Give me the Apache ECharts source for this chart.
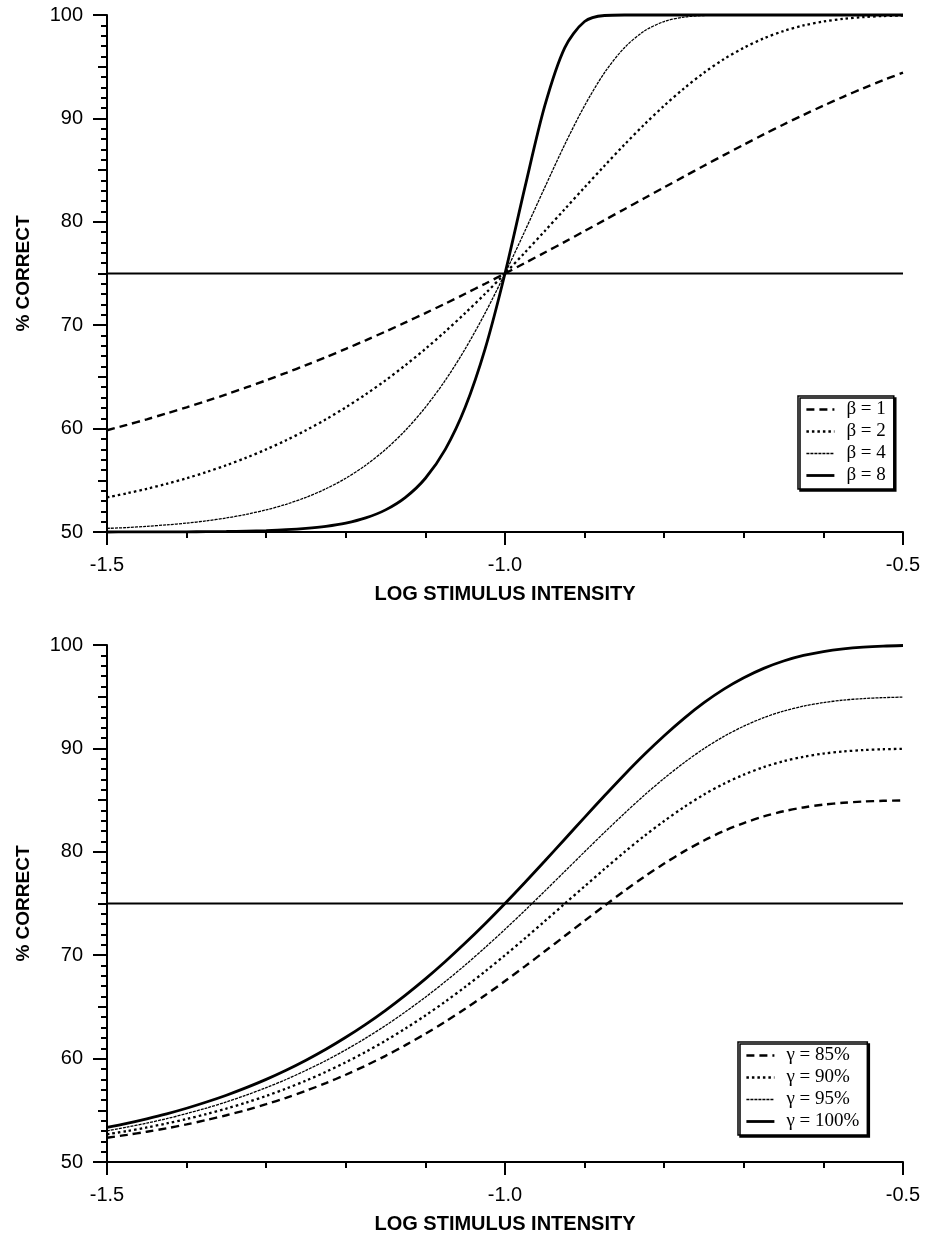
<!DOCTYPE html>
<html>
<head>
<meta charset="utf-8">
<script src="https://cdn.jsdelivr.net/npm/echarts@6/dist/echarts.min.js"></script>
<style>
  html, body { margin: 0; padding: 0; background: #fff; }
  #upper { width: 925px; height: 620px; }
  #lower { width: 925px; height: 619px; }
</style>
</head>
<body>
<div id="upper"></div>
<div id="lower"></div>
<script>
// Log stimulus intensity sampled every 0.025 log units
const logIntensity = [
  -1.5, -1.475, -1.45, -1.425, -1.4, -1.375, -1.35, -1.325, -1.3, -1.275,
  -1.25, -1.225, -1.2, -1.175, -1.15, -1.125, -1.1, -1.075, -1.05, -1.025,
  -1.0, -0.975, -0.95, -0.925, -0.9, -0.875, -0.85, -0.825, -0.8, -0.775,
  -0.75, -0.725, -0.7, -0.675, -0.65, -0.625, -0.6, -0.575, -0.55, -0.525, -0.5
];

// Upper panel: percent correct for four slopes
const beta1 = [
  59.84, 60.36, 60.90, 61.47, 62.06, 62.67, 63.31, 63.98, 64.67, 65.39,
  66.14, 66.91, 67.71, 68.54, 69.39, 70.27, 71.17, 72.09, 73.04, 74.01,
  75.00, 76.01, 77.03, 78.06, 79.11, 80.16, 81.22, 82.28, 83.33, 84.38,
  85.42, 86.45, 87.46, 88.45, 89.41, 90.34, 91.23, 92.09, 92.91, 93.69, 94.42
];
const beta2 = [
  53.35, 53.74, 54.18, 54.66, 55.20, 55.80, 56.46, 57.19, 57.99, 58.87,
  59.84, 60.90, 62.06, 63.31, 64.67, 66.14, 67.71, 69.39, 71.17, 73.04,
  75.00, 77.03, 79.11, 81.22, 83.33, 85.42, 87.46, 89.41, 91.23, 92.91,
  94.42, 95.73, 96.83, 97.74, 98.45, 98.99, 99.37, 99.63, 99.80, 99.90, 99.95
];
const beta4 = [
  50.35, 50.43, 50.55, 50.69, 50.86, 51.08, 51.36, 51.71, 52.14, 52.68,
  53.35, 54.18, 55.20, 56.46, 57.99, 59.84, 62.06, 64.67, 67.71, 71.17,
  75.00, 79.11, 83.33, 87.46, 91.23, 94.42, 96.83, 98.45, 99.37, 99.80,
  99.95, 99.99, 100, 100, 100, 100, 100, 100, 100, 100, 100
];
const beta8 = [
  50.00, 50.01, 50.01, 50.01, 50.02, 50.03, 50.05, 50.09, 50.14, 50.22,
  50.35, 50.55, 50.86, 51.36, 52.14, 53.35, 55.20, 57.99, 62.06, 67.71,
  75.00, 83.33, 91.23, 96.83, 99.37, 99.95, 100, 100, 100, 100,
  100, 100, 100, 100, 100, 100, 100, 100, 100, 100, 100
];

// Lower panel: percent correct for four upper asymptotes
const gamma85 = [
  52.35, 52.62, 52.93, 53.26, 53.64, 54.06, 54.52, 55.03, 55.59, 56.21,
  56.89, 57.63, 58.44, 59.32, 60.27, 61.30, 62.40, 63.57, 64.82, 66.13,
  67.50, 68.92, 70.38, 71.85, 73.33, 74.79, 76.22, 77.59, 78.86, 80.04,
  81.09, 82.01, 82.78, 83.42, 83.92, 84.29, 84.56, 84.74, 84.86, 84.93, 84.97
];
const gamma90 = [
  52.68, 52.99, 53.34, 53.73, 54.16, 54.64, 55.17, 55.75, 56.39, 57.10,
  57.87, 58.72, 59.65, 60.65, 61.74, 62.91, 64.17, 65.51, 66.94, 68.43,
  70.00, 71.62, 73.29, 74.98, 76.66, 78.34, 79.97, 81.53, 82.98, 84.33,
  85.54, 86.58, 87.46, 88.19, 88.76, 89.19, 89.50, 89.70, 89.84, 89.92, 89.96
];
const gamma95 = [
  53.02, 53.37, 53.76, 54.19, 54.68, 55.22, 55.81, 56.47, 57.19, 57.98,
  58.86, 59.81, 60.85, 61.98, 63.20, 64.53, 65.94, 67.45, 69.05, 70.74,
  72.50, 74.33, 76.20, 78.10, 80.00, 81.88, 83.71, 85.47, 87.11, 88.62,
  89.98, 91.16, 92.15, 92.97, 93.61, 94.09, 94.43, 94.67, 94.82, 94.91, 94.96
];
const gamma100 = [
  53.35, 53.74, 54.18, 54.66, 55.20, 55.80, 56.46, 57.19, 57.99, 58.87,
  59.84, 60.90, 62.06, 63.31, 64.67, 66.14, 67.71, 69.39, 71.17, 73.04,
  75.00, 77.03, 79.11, 81.22, 83.33, 85.42, 87.46, 89.41, 91.23, 92.91,
  94.42, 95.73, 96.83, 97.74, 98.45, 98.99, 99.37, 99.63, 99.80, 99.90, 99.95
];

// Threshold criterion, axis ranges and labelled ticks
const criterion = 75;
const xRange = [-1.5, -0.5];
const yRange = [50, 100];
const xTickLabels = [-1.5, -1.0, -0.5];
const xTitle = 'LOG STIMULUS INTENSITY';
const yTitle = '% CORRECT';

const betaNames = ['\u03B2 = 1', '\u03B2 = 2', '\u03B2 = 4', '\u03B2 = 8'];
const gammaNames = ['\u03B3 = 85%', '\u03B3 = 90%', '\u03B3 = 95%', '\u03B3 = 100%'];

const SANS = '"Liberation Sans", Arial, Helvetica, sans-serif';
const SERIF = '"Liberation Serif", "Times New Roman", serif';

// dashed / dotted / fine dotted / solid
const lineStyles = [
  { width: 2.4, type: [8, 5] },
  { width: 2.3, type: [2.5, 3] },
  { width: 1.3, type: [3, 1] },
  { width: 2.8, type: 'solid' }
];

const X_LABEL_MARGIN = 23;

function pairs(ys) {
  return logIntensity.map((x, i) => [x, ys[i]]);
}

function curve(name, ys, style) {
  return {
    type: 'line', name, yAxisIndex: 0,
    data: pairs(ys), showSymbol: false, symbol: 'none',
    smooth: 0.3, clip: false, silent: true,
    lineStyle: Object.assign({ color: '#000', cap: 'butt' }, style),
    itemStyle: { color: '#000' }
  };
}

function criterionLine() {
  return {
    type: 'line', yAxisIndex: 0,
    data: [[xRange[0], criterion], [xRange[1], criterion]],
    showSymbol: false, symbol: 'none', silent: true, clip: false,
    lineStyle: { color: '#000', width: 2 }
  };
}

// tick numbers are placed below the axis by the chart's own x scale
const xAxis = {
  type: 'value', min: xRange[0], max: xRange[1], interval: 0.5,
  name: xTitle, nameLocation: 'middle', nameGap: 52,
  nameTextStyle: { fontFamily: SANS, fontWeight: 'bold', fontSize: 20, color: '#000' },
  axisLine: { show: true, onZero: false, lineStyle: { color: '#000', width: 2 } },
  axisTick: { show: true, length: 13, lineStyle: { color: '#000', width: 2 } },
  minorTick: { show: true, splitNumber: 5, length: 6, lineStyle: { color: '#000', width: 2 } },
  splitLine: { show: false },
  axisLabel: { show: false }
};

const yAxes = [
  {
    type: 'value', position: 'left', min: yRange[0], max: yRange[1], interval: 10,
    name: yTitle, nameLocation: 'middle', nameGap: 74, nameRotate: 90,
    nameTextStyle: { fontFamily: SANS, fontWeight: 'bold', fontSize: 19, color: '#000' },
    axisLine: { show: true, onZero: false, lineStyle: { color: '#000', width: 2 } },
    axisTick: { show: true, length: 14, lineStyle: { color: '#000', width: 2 } },
    minorTick: { show: true, splitNumber: 10, length: 6, lineStyle: { color: '#000', width: 2 } },
    splitLine: { show: false },
    axisLabel: { margin: 24, fontFamily: SANS, fontSize: 20, color: '#000' }
  },
  {
    // half-decade ticks, slightly longer than the unit ticks
    type: 'value', position: 'left', min: yRange[0], max: yRange[1], interval: 5,
    axisLine: { show: false },
    axisTick: { show: true, length: 9, lineStyle: { color: '#000', width: 2 } },
    splitLine: { show: false },
    axisLabel: { show: false }
  }
];

function legend(names, pos) {
  return Object.assign({
    data: names.map((n, i) => ({
      name: n,
      lineStyle: { color: '#000', width: lineStyles[i].width, type: lineStyles[i].type, cap: 'butt' }
    })),
    orient: 'vertical',
    itemWidth: 28, itemHeight: 12, itemGap: 3,
    padding: [4, 8, 4, 7],
    backgroundColor: '#fff', borderColor: '#000', borderWidth: 1.5, borderRadius: 0,
    shadowColor: '#000', shadowBlur: 0, shadowOffsetX: 2, shadowOffsetY: 2,
    selectedMode: false,
    // only the line sample is shown, the marker is made invisible
    itemStyle: { color: 'rgba(0,0,0,0)', borderColor: 'rgba(0,0,0,0)', borderWidth: 0 },
    textStyle: { fontFamily: SERIF, fontSize: 19, color: '#000', padding: [0, 0, 0, 7] }
  }, pos);
}

function panel(el, gridTop, gridHeight, names, values, legendPos) {
  const chart = echarts.init(document.getElementById(el), null, { renderer: 'canvas' });
  chart.setOption({
    animation: false,
    backgroundColor: '#fff',
    grid: { left: 107, right: 22, top: gridTop, height: gridHeight },
    xAxis,
    yAxis: yAxes,
    legend: legend(names, legendPos),
    series: [criterionLine(), ...names.map((n, i) => curve(n, values[i], lineStyles[i]))]
  });
  // x tick numbers, positioned through the grid's coordinate conversion
  const tickText = xTickLabels.map(v => {
    const p = chart.convertToPixel({ gridIndex: 0 }, [v, yRange[0]]);
    return {
      type: 'text', x: p[0], y: p[1] + X_LABEL_MARGIN, silent: true, z: 10,
      style: {
        text: v.toFixed(1), fontFamily: SANS, fontSize: 20, fill: '#000',
        align: 'center', verticalAlign: 'top'
      }
    };
  });
  chart.setOption({ graphic: tickText });
}

panel('upper', 15, 517, betaNames, [beta1, beta2, beta4, beta8], { left: 798, top: 396 });
panel('lower', 25, 518, gammaNames, [gamma85, gamma90, gamma95, gamma100], { left: 738, top: 422 });
</script>
</body>
</html>
